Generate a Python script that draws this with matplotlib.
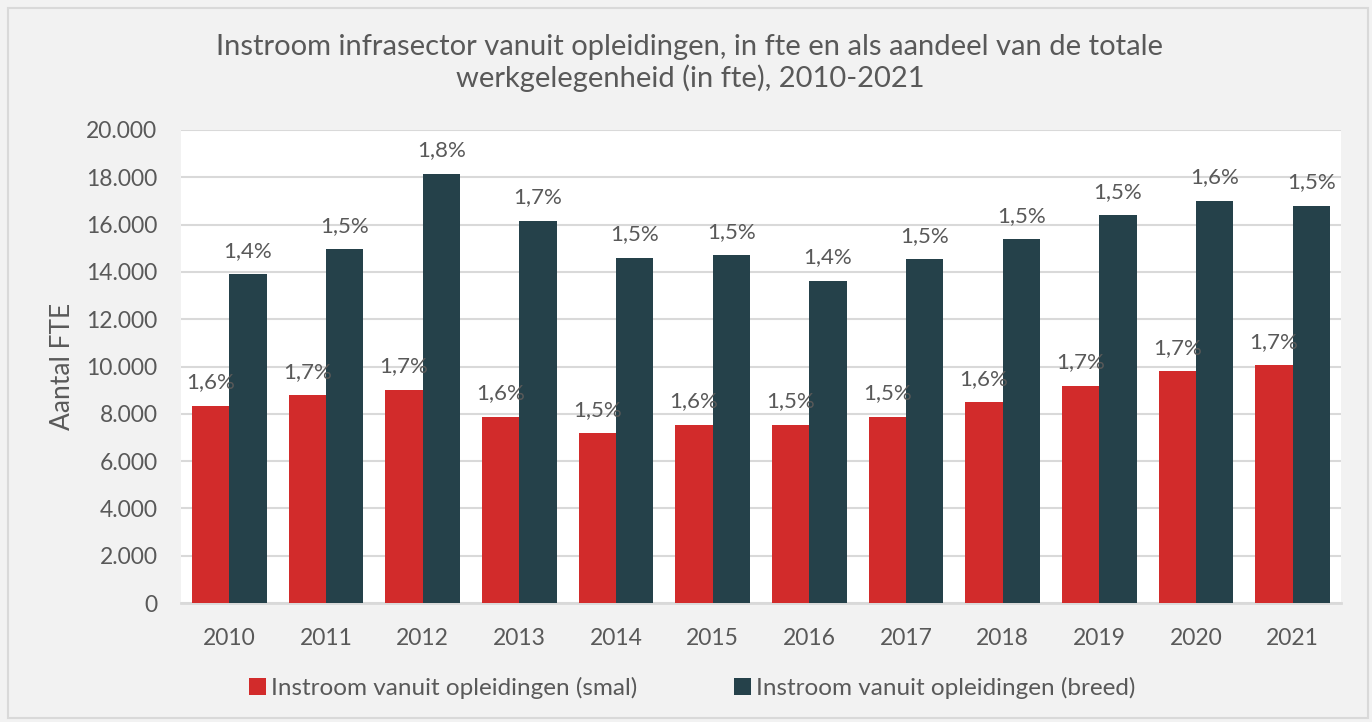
import numpy as np
import matplotlib.pyplot as plt
from matplotlib.ticker import FuncFormatter

years = ['2010', '2011', '2012', '2013', '2014', '2015', '2016', '2017', '2018', '2019', '2020', '2021']
smal = [8350, 8780, 9010, 7870, 7180, 7530, 7540, 7870, 8500, 9180, 9810, 10050]
breed = [13910, 14950, 18150, 16170, 14600, 14700, 13630, 14530, 15390, 16390, 17010, 16790]
smal_pct = ['1,6%', '1,7%', '1,7%', '1,6%', '1,5%', '1,6%', '1,5%', '1,5%', '1,6%', '1,7%', '1,7%', '1,7%']
breed_pct = ['1,4%', '1,5%', '1,8%', '1,7%', '1,5%', '1,5%', '1,4%', '1,5%', '1,5%', '1,5%', '1,6%', '1,5%']

red = '#d22b2b'
dark = '#25414a'
textc = '#595959'
gridc = '#d9d9d9'

plt.rcParams['font.family'] = ['Lato', 'DejaVu Sans']

fig = plt.figure(figsize=(13.72, 7.22), dpi=100, facecolor='#f2f2f2')
ax = fig.add_axes([181 / 1372, 1 - 603 / 722, 1160 / 1372, 473 / 722])
ax.set_facecolor('white')

# outer border
fig.patches.append(plt.Rectangle((8 / 1372, 4 / 722), 1360 / 1372, 710 / 722,
                                 transform=fig.transFigure, fill=False,
                                 edgecolor='#d9d9d9', linewidth=1.5))

x = np.arange(len(years))
w = 0.385
b1 = ax.bar(x - w / 2, smal, w, color=red, label='Instroom vanuit opleidingen (smal)', zorder=3)
b2 = ax.bar(x + w / 2, breed, w, color=dark, label='Instroom vanuit opleidingen (breed)', zorder=3)

for rect, lab in zip(b1, smal_pct):
    ax.annotate(lab, (rect.get_x() + rect.get_width() / 2, rect.get_height()),
                xytext=(0, 12.5), textcoords='offset points', ha='center', va='baseline',
                fontsize=16, color=textc, zorder=4)
for rect, lab in zip(b2, breed_pct):
    ax.annotate(lab, (rect.get_x() + rect.get_width() / 2, rect.get_height()),
                xytext=(0, 12.5), textcoords='offset points', ha='center', va='baseline',
                fontsize=16, color=textc, zorder=4)

ax.set_xlim(-0.5, len(years) - 0.5)
ax.set_ylim(0, 20000)
ax.set_yticks(np.arange(0, 20001, 2000))
ax.yaxis.set_major_formatter(FuncFormatter(lambda v, p: f'{int(v):,}'.replace(',', '.')))
ax.set_xticks(x)
ax.set_xticklabels(years)
ax.grid(axis='y', color=gridc, linewidth=1.5, zorder=0)
ax.tick_params(length=0, labelsize=16.5, colors=textc)
ax.tick_params(axis='y', pad=17)
ax.tick_params(axis='x', pad=18)
for s in ['top', 'right', 'left']:
    ax.spines[s].set_visible(False)
ax.spines['bottom'].set_color(gridc)
ax.spines['bottom'].set_linewidth(2)

ax.set_ylabel('Aantal FTE', fontsize=19, color=textc, labelpad=8)

fig.text(690 / 1372, 1 - 63 / 722,
         'Instroom infrasector vanuit opleidingen, in fte en als aandeel van de totale\nwerkgelegenheid (in fte), 2010-2021',
         ha='center', va='center', fontsize=21, color=textc, linespacing=1.15)

fig.legend(loc='center', bbox_to_anchor=(692 / 1372, 1 - 688 / 722), ncol=2, frameon=False,
           fontsize=17.5, labelcolor=textc, handlelength=0.7, handleheight=0.7,
           handletextpad=0.2, columnspacing=4)

fig.savefig('out.png', dpi=100, facecolor=fig.get_facecolor())
